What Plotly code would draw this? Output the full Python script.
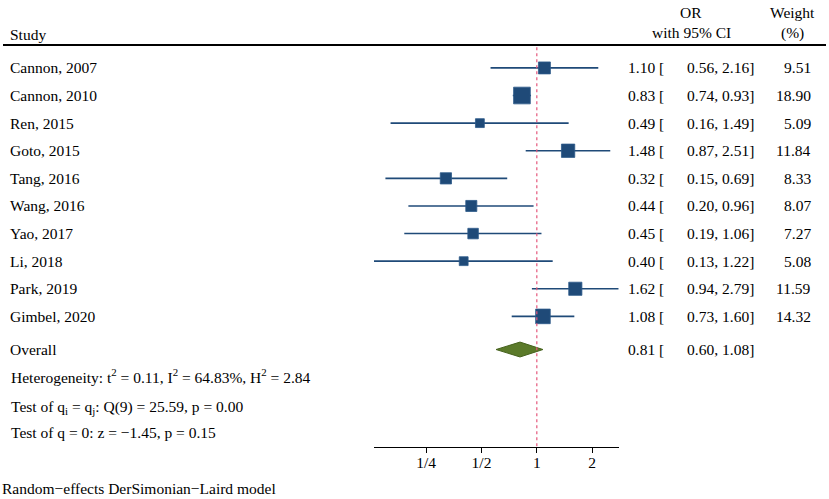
import math
import plotly.graph_objects as go

# ---------------- data ----------------
studies = ["Cannon, 2007", "Cannon, 2010", "Ren, 2015", "Goto, 2015", "Tang, 2016",
           "Wang, 2016", "Yao, 2017", "Li, 2018", "Park, 2019", "Gimbel, 2020"]
or_val = [1.10, 0.83, 0.49, 1.48, 0.32, 0.44, 0.45, 0.40, 1.62, 1.08]
ci_lo = [0.56, 0.74, 0.16, 0.87, 0.15, 0.20, 0.19, 0.13, 0.94, 0.73]
ci_hi = [2.16, 0.93, 1.49, 2.51, 0.69, 0.96, 1.06, 1.22, 2.79, 1.60]
weights = [9.51, 18.90, 5.09, 11.84, 8.33, 8.07, 7.27, 5.08, 11.59, 14.32]

overall_label = "Overall"
overall_or = 0.81
overall_lo = 0.60
overall_hi = 1.08

tick_vals = [0.25, 0.5, 1, 2]
tick_text = ["1/4", "1/2", "1", "2"]

stats_lines = [
    "Heterogeneity: t<sup>2</sup> = 0.11, I<sup>2</sup> = 64.83%, H<sup>2</sup> = 2.84",
    "Test of q<sub>i</sub> = q<sub>j</sub>: Q(9) = 25.59, p = 0.00",
    "Test of q = 0: z = \u22121.45, p = 0.15",
]
footnote = "Random\u2212effects DerSimonian\u2212Laird model"

# ---------------- layout helpers ----------------
W, H = 829, 499
FONT = "Liberation Serif"
FS = 15.5
NAVY = "#1f4a78"
GREEN = "#5b7a2a"

row_y = list(range(len(studies)))          # 0..9
overall_y = 10.2
stats_y = [11.15, 12.3, 13.22]
axis_y = 13.72
top_y = -2.46


def px_x(p):
    return p / W


def px_y(p):
    return 1 - p / H


fig = go.Figure()

# CI lines
xs, ys = [], []
for y, lo, hi in zip(row_y, ci_lo, ci_hi):
    xs += [lo, hi, None]
    ys += [y, y, None]
fig.add_trace(go.Scatter(x=xs, y=ys, mode="lines",
                         line=dict(color=NAVY, width=1.6),
                         hoverinfo="skip", showlegend=False))

# weighted squares
fig.add_trace(go.Scatter(x=or_val, y=row_y, mode="markers",
                         marker=dict(symbol="square", color=NAVY, opacity=1,
                                     size=[3.75 * math.sqrt(w) + 0.4 for w in weights],
                                     line=dict(color="#2d5b8a", width=0.8)),
                         showlegend=False))

# overall diamond
dh = 0.27
fig.add_trace(go.Scatter(x=[overall_lo, overall_or, overall_hi, overall_or, overall_lo],
                         y=[overall_y, overall_y - dh, overall_y, overall_y + dh, overall_y],
                         mode="lines", fill="toself", fillcolor=GREEN,
                         line=dict(color="#46621e", width=1),
                         hoverinfo="skip", showlegend=False))

lo_all = min(ci_lo + [overall_lo])
hi_all = max(ci_hi + [overall_hi])

fig.update_layout(
    width=W, height=H,
    margin=dict(l=0, r=0, t=0, b=0),
    paper_bgcolor="white", plot_bgcolor="white",
    font=dict(family=FONT, size=FS, color="black"),
    xaxis=dict(type="log", range=[math.log10(lo_all), math.log10(hi_all)],
               domain=[374 / W, 618.7 / W],
               tickvals=tick_vals, ticktext=tick_text,
               ticks="outside", ticklen=5, tickcolor="black", tickwidth=1,
               ticklabelstandoff=-3,
               showline=True, linecolor="black", linewidth=1,
               showgrid=False, zeroline=False,
               tickfont=dict(family=FONT, size=FS, color="black")),
    yaxis=dict(range=[axis_y, top_y], domain=[1 - 446.7 / H, 1],
               visible=False, showgrid=False, zeroline=False),
)

# reference line at OR = 1
fig.add_shape(type="line", xref="x", yref="y", x0=1, x1=1, y0=-0.75, y1=axis_y,
              line=dict(color="#e5577c", width=1.2, dash="dot"))
# header rule
fig.add_shape(type="line", xref="paper", yref="paper", x0=px_x(3), x1=px_x(826),
              y0=px_y(45), y1=px_y(45), line=dict(color="black", width=2))

ann = []


def add_text(text, x, y, xanchor="left", yref="paper"):
    ann.append(dict(text=text, x=x, y=y, xref="paper", yref=yref,
                    xanchor=xanchor, yanchor="middle", showarrow=False,
                    font=dict(family=FONT, size=FS, color="black")))


# headers
add_text("Study", px_x(8), px_y(35))
add_text("OR", px_x(691), px_y(12), "center")
add_text("with 95% CI", px_x(691), px_y(33), "center")
add_text("Weight", px_x(792), px_y(12), "center")
add_text("(%)", px_x(792), px_y(33), "center")

# study rows
for y, name, o, lo, hi, w in zip(row_y, studies, or_val, ci_lo, ci_hi, weights):
    add_text(name, px_x(8), y, "left", "y")
    add_text(f"{o:.2f} [", px_x(666), y, "right", "y")
    add_text(f"{lo:.2f},", px_x(720), y, "right", "y")
    add_text(f"{hi:.2f}]", px_x(756), y, "right", "y")
    add_text(f"{w:.2f}", px_x(813), y, "right", "y")

# overall row
add_text(overall_label, px_x(8), overall_y, "left", "y")
add_text(f"{overall_or:.2f} [", px_x(666), overall_y, "right", "y")
add_text(f"{overall_lo:.2f},", px_x(720), overall_y, "right", "y")
add_text(f"{overall_hi:.2f}]", px_x(756), overall_y, "right", "y")

# stats
for y, t in zip(stats_y, stats_lines):
    add_text(t, px_x(9), y, "left", "y")

add_text(footnote, px_x(0), px_y(488))

fig.update_layout(annotations=ann)
fig.write_html("out.html", config={"displayModeBar": False},
               post_script="document.body.style.margin='0';")
